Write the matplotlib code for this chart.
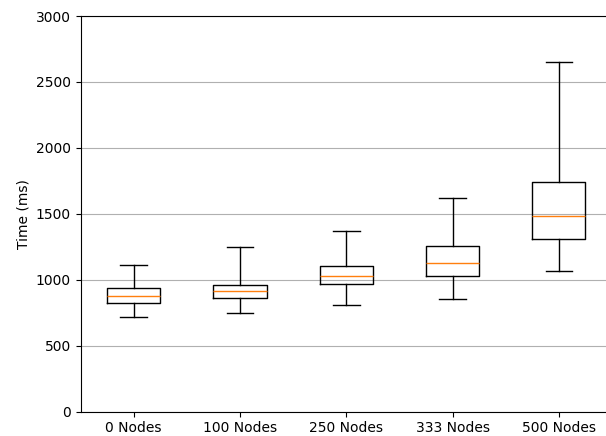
import matplotlib
matplotlib.use("Agg")
import matplotlib.pyplot as plt

labels = ["0 Nodes", "100 Nodes", "250 Nodes", "333 Nodes", "500 Nodes"]
whislo = [715, 745, 805, 850, 1068]
q1 = [823, 859, 969, 1030, 1308]
med = [878, 912, 1025, 1124, 1483]
q3 = [934, 962, 1106, 1253, 1741]
whishi = [1113, 1246, 1369, 1622, 2653]

stats = [
    {"label": l, "whislo": lo, "q1": a, "med": m, "q3": b, "whishi": hi, "fliers": []}
    for l, lo, a, m, b, hi in zip(labels, whislo, q1, med, q3, whishi)
]

fig = plt.figure(figsize=(6.06, 4.36), dpi=100)
ax = fig.add_axes([80.5 / 606, 24.5 / 436, 531.5 / 606, 395.5 / 436])
ax.bxp(stats, showfliers=False)
ax.set_ylim(0, 3000)
ax.set_yticks(range(0, 3001, 500))
ax.yaxis.grid(True)
ax.set_axisbelow(True)
ax.set_ylabel("Time (ms)")

fig.savefig("out.png", dpi=100)
